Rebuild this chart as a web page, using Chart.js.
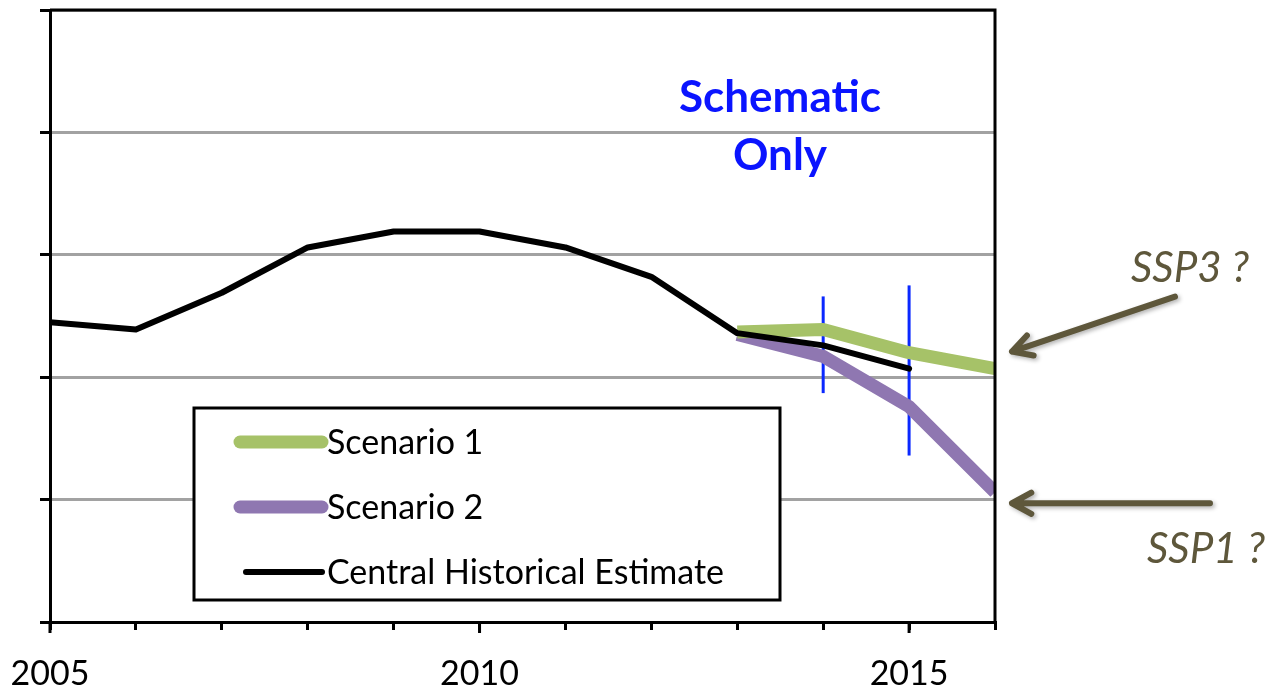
<!DOCTYPE html>
<html>
<head>
<meta charset="utf-8">
<script src="https://cdn.jsdelivr.net/npm/chart.js@4/dist/chart.umd.min.js"></script>
<style>
  html, body { margin: 0; padding: 0; background: #fff; }
  #wrap { width: 1281px; height: 688px; }
</style>
</head>
<body>
<div id="wrap"><canvas id="chart" width="1281" height="688"></canvas></div>
<script>
// --- data ---
const histYears = [2005, 2006, 2007, 2008, 2009, 2010, 2011, 2012, 2013, 2014, 2015];
const histValues = [2.45, 2.39, 2.69, 3.06, 3.19, 3.19, 3.06, 2.82, 2.36, 2.26, 2.07];

const scenYears = [2013, 2014, 2015, 2016];
const scen1Values = [2.37, 2.39, 2.20, 2.07];
const scen2Values = [2.35, 2.17, 1.76, 1.06];

const errYears = [2014, 2015];
const errLow = [1.87, 1.36];
const errHigh = [2.66, 2.75];

const xMajorLabels = [2005, 2010, 2015];

const FONT = "Lato, 'Open Sans', sans-serif";
const OLIVE = "#5e573b";

const pts = (xs, ys) => xs.map((x, i) => ({ x, y: ys[i] }));

// --- plugin: frame, in-chart legend, notes and arrows ---
function arrow(ctx, x1, y1, x2, y2) {
  const ang = Math.atan2(y2 - y1, x2 - x1);
  const head = 22;
  ctx.save();
  ctx.strokeStyle = OLIVE;
  ctx.lineWidth = 6;
  ctx.lineCap = "round";
  ctx.lineJoin = "round";
  ctx.shadowColor = "rgba(0,0,0,0.3)";
  ctx.shadowBlur = 4;
  ctx.shadowOffsetX = 2;
  ctx.shadowOffsetY = 2;
  ctx.beginPath();
  ctx.moveTo(x1, y1);
  ctx.lineTo(x2, y2);
  ctx.moveTo(x2 - head * Math.cos(ang - 0.5), y2 - head * Math.sin(ang - 0.5));
  ctx.lineTo(x2, y2);
  ctx.lineTo(x2 - head * Math.cos(ang + 0.5), y2 - head * Math.sin(ang + 0.5));
  ctx.stroke();
  ctx.restore();
}

const extrasPlugin = {
  id: "extras",
  afterDraw(chart) {
    const { ctx, chartArea: a, scales } = chart;
    // top and right frame
    ctx.save();
    ctx.strokeStyle = "#000";
    ctx.lineWidth = 3;
    ctx.beginPath();
    ctx.moveTo(a.left, a.top);
    ctx.lineTo(a.right, a.top);
    ctx.lineTo(a.right, a.bottom);
    ctx.stroke();

    // longer marks for the labelled years
    ctx.beginPath();
    xMajorLabels.forEach(v => {
      const px = scales.x.getPixelForValue(v);
      ctx.moveTo(px, a.bottom);
      ctx.lineTo(px, a.bottom + 11);
    });
    ctx.stroke();

    // legend box
    const lx = 194, ly = 408, lw = 586, lh = 192;
    ctx.fillStyle = "#fff";
    ctx.fillRect(lx, ly, lw, lh);
    ctx.strokeRect(lx, ly, lw, lh);
    const items = chart.data.datasets.filter(d => d.inLegend);
    ctx.font = `34px ${FONT}`;
    ctx.textBaseline = "middle";
    ctx.textAlign = "left";
    items.forEach((d, i) => {
      const y = 442 + i * 65;
      ctx.strokeStyle = d.borderColor;
      ctx.lineWidth = d.borderWidth;
      ctx.lineCap = "round";
      ctx.beginPath();
      ctx.moveTo(d.borderWidth > 8 ? 240 : 246, y);
      ctx.lineTo(322, y);
      ctx.stroke();
      ctx.fillStyle = "#000";
      ctx.fillText(d.label, 327, y + 1);
    });

    // "Schematic Only"
    ctx.fillStyle = "#0a14ff";
    ctx.font = `bold 44px ${FONT}`;
    ctx.textAlign = "center";
    ctx.fillText("Schematic", 780, 98);
    ctx.fillText("Only", 780, 156);

    // SSP notes
    ctx.fillStyle = OLIVE;
    ctx.font = `italic 42px ${FONT}`;
    ctx.textAlign = "left";
    ctx.fillText("SSP3 ?", 1131, 268);
    ctx.fillText("SSP1 ?", 1147, 549);
    ctx.restore();

    const xEnd = scales.x.getPixelForValue(2016);
    const ySsp3 = scales.y.getPixelForValue(scen1Values[scen1Values.length - 1]);
    const ySsp1 = scales.y.getPixelForValue(scen2Values[scen2Values.length - 1]);
    arrow(ctx, xEnd + 180, ySsp3 - 72, xEnd + 17, ySsp3 - 17);
    arrow(ctx, xEnd + 215, ySsp1 + 11, xEnd + 17, ySsp1 + 11);
  }
};

const errSets = errYears.map((yr, i) => ({
  label: "err" + yr,
  data: [{ x: yr, y: errLow[i] }, { x: yr, y: errHigh[i] }],
  borderColor: "#0a28ff",
  borderWidth: 3,
  pointRadius: 0,
  order: 3,
  inLegend: false
}));

new Chart(document.getElementById("chart"), {
  type: "line",
  data: {
    datasets: [
      { label: "Scenario 1", data: pts(scenYears, scen1Values), borderColor: "#a6c268",
        borderWidth: 13, pointRadius: 0, borderJoinStyle: "round", order: 1, inLegend: true },
      { label: "Scenario 2", data: pts(scenYears, scen2Values), borderColor: "#8f77b1",
        borderWidth: 13, pointRadius: 0, borderJoinStyle: "round", order: 2, inLegend: true },
      { label: "Central Historical Estimate", data: pts(histYears, histValues), borderColor: "#000",
        borderWidth: 6, pointRadius: 0, borderJoinStyle: "round", borderCapStyle: "round", order: 0, inLegend: true },
      ...errSets
    ]
  },
  options: {
    responsive: false,
    animation: false,
    layout: { padding: { left: 0, right: 286, top: 10, bottom: -30 } },
    plugins: { legend: { display: false }, tooltip: { enabled: false } },
    scales: {
      x: {
        type: "linear", min: 2005, max: 2016,
        afterFit: (s) => { s.paddingLeft = 0; s.paddingRight = 0; },
        ticks: {
          stepSize: 1, autoSkip: false, maxRotation: 0, padding: 27,
          color: "#000", font: { family: FONT, size: 34, lineHeight: 1 },
          callback: (v) => xMajorLabels.includes(v) ? String(v) : ""
        },
        grid: { drawOnChartArea: false, drawTicks: true, tickLength: 8, color: "#000", lineWidth: 3 },
        border: { color: "#000", width: 3 }
      },
      y: {
        min: 0, max: 5,
        afterFit: (s) => { s.width = 50; },
        ticks: { stepSize: 1, padding: 0, callback: () => "" },
        grid: {
          color: (c) => c.tick.value === 0 ? "rgba(0,0,0,0)" : "#a2a2a2",
          tickColor: "#000", tickLength: 10, lineWidth: 3
        },
        border: { color: "#000", width: 3 }
      }
    }
  },
  plugins: [extrasPlugin]
});
</script>
</body>
</html>
